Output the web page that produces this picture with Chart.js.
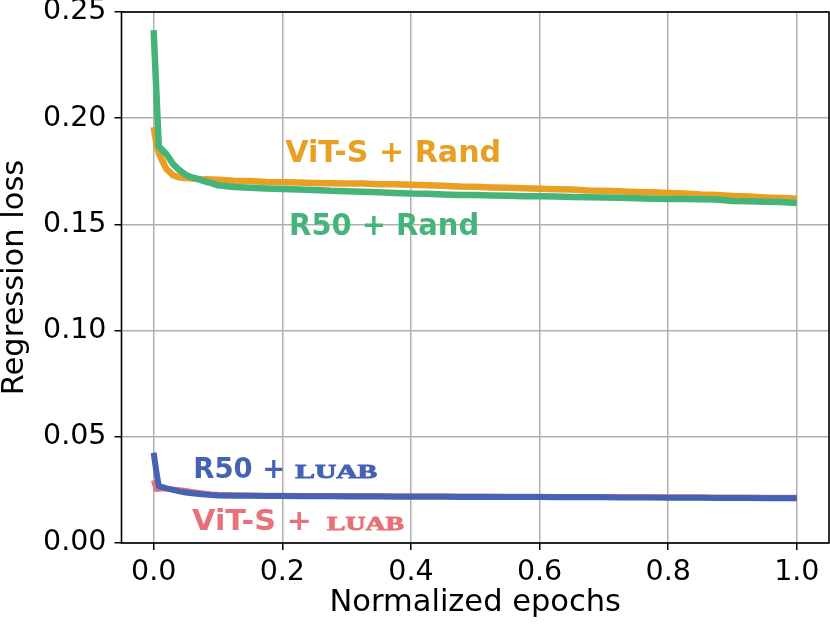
<!DOCTYPE html>
<html>
<head>
<meta charset="utf-8">
<script src="https://cdn.jsdelivr.net/npm/chart.js@4.4.1/dist/chart.umd.min.js"></script>
<style>
  html, body { margin: 0; padding: 0; background: #ffffff; }
  #wrap { width: 830px; height: 625px; }
</style>
</head>
<body>
<div id="wrap"><canvas id="lossChart" width="830" height="625"></canvas></div>
<script>
// Regression loss vs normalized epochs

const epochs = [0, 0.004, 0.008, 0.015, 0.02, 0.03, 0.04, 0.05, 0.06, 0.07, 0.08, 0.09,
    0.1, 0.125, 0.15, 0.175, 0.2, 0.225, 0.25, 0.275, 0.3, 0.325, 0.35, 0.375, 0.4,
    0.425, 0.45, 0.475, 0.5, 0.525, 0.55, 0.575, 0.6, 0.625, 0.65, 0.675, 0.7, 0.725,
    0.75, 0.775, 0.8, 0.825, 0.85, 0.875, 0.9, 0.925, 0.95, 0.975, 1.0];

const vitRand = [0.1958, 0.1884, 0.1835, 0.1790, 0.1760, 0.1732, 0.1721, 0.1719, 0.1716, 0.1714, 0.1712, 0.1711,
    0.1710, 0.1706, 0.1704, 0.1700, 0.1699, 0.1697, 0.1695, 0.1694, 0.1692, 0.1693, 0.1689, 0.1689, 0.1687,
    0.1684, 0.1682, 0.1678, 0.1677, 0.1674, 0.1672, 0.1670, 0.1668, 0.1666, 0.1664, 0.1660, 0.1659, 0.1656,
    0.1653, 0.1651, 0.1648, 0.1646, 0.1641, 0.1638, 0.1634, 0.1631, 0.1627, 0.1624, 0.1621];

const r50Rand = [0.2415, 0.2140, 0.1866, 0.1846, 0.1830, 0.1785, 0.1755, 0.1733, 0.1721, 0.1712, 0.1702, 0.1694,
    0.1684, 0.1676, 0.1672, 0.1669, 0.1667, 0.1664, 0.1662, 0.1658, 0.1656, 0.1654, 0.1651, 0.1648, 0.1645,
    0.1644, 0.1641, 0.1638, 0.1638, 0.1636, 0.1635, 0.1633, 0.1633, 0.1631, 0.1629, 0.1628, 0.1627, 0.1625,
    0.1623, 0.1621, 0.1619, 0.1619, 0.1618, 0.1617, 0.1610, 0.1609, 0.1607, 0.1606, 0.1601];

const r50Luab = [0.0425, 0.0340, 0.0267, 0.0262, 0.0257, 0.0250, 0.0243, 0.0238, 0.0234, 0.0231, 0.0228, 0.0226,
    0.0224, 0.0223, 0.0222, 0.0221, 0.0221, 0.0220, 0.0220, 0.0220, 0.0219, 0.0219, 0.0219, 0.0218, 0.0218,
    0.0218, 0.0218, 0.0217, 0.0217, 0.0217, 0.0216, 0.0216, 0.0216, 0.0215, 0.0215, 0.0215, 0.0215, 0.0214,
    0.0214, 0.0214, 0.0213, 0.0213, 0.0213, 0.0212, 0.0212, 0.0212, 0.0211, 0.0211, 0.0211];

const vitLuab = [0.0296, 0.0253, 0.0254, 0.0256, 0.0255, 0.0253, 0.0250, 0.0246, 0.0241, 0.0237, 0.0233, 0.0230,
    0.0228, 0.0226, 0.0225, 0.0224, 0.0224, 0.0223, 0.0223, 0.0223, 0.0222, 0.0222, 0.0222, 0.0221, 0.0221,
    0.0221, 0.0221, 0.0220, 0.0220, 0.0220, 0.0219, 0.0219, 0.0219, 0.0218, 0.0218, 0.0218, 0.0218, 0.0217,
    0.0217, 0.0217, 0.0216, 0.0216, 0.0216, 0.0215, 0.0215, 0.0215, 0.0214, 0.0214, 0.0214];

const xTicks = [0.0, 0.2, 0.4, 0.6, 0.8, 1.0];
const yTicks = [0.00, 0.05, 0.10, 0.15, 0.20, 0.25];

const COLORS = {
    vitRand: '#E89F22',
    r50Rand: '#44B47A',
    vitLuab: '#E8717A',
    r50Luab: '#4562B5'
};

const SANS = 'bold 29.5px "DejaVu Sans"';
const SANS_SM = 'bold 28.5px "DejaVu Sans"';
const SC = 'bold 19px "Liberation Serif"';
const TICK_FONT = { family: '"DejaVu Sans"', size: 28.5 };
const TITLE_FONT = { family: '"DejaVu Sans"', size: 30.5, lineHeight: 1 };

// In-plot series labels (anchored in data coords, widths in px)
const seriesLabels = [
    { color: COLORS.vitRand, x: 0.2044, y: 0.1796, parts: [{ text: 'ViT-S + Rand', font: SANS, w: 216 }] },
    { color: COLORS.r50Rand, x: 0.2106, y: 0.1451, parts: [{ text: 'R50 + Rand', font: SANS, w: 190 }] },
    { color: COLORS.r50Luab, x: 0.0616, y: 0.0308, parts: [
        { text: 'R50 +', font: SANS_SM, w: 92 },
        { text: 'LUAB', font: SC, w: 82, gap: 10, heavy: true }] },
    { color: COLORS.vitLuab, x: 0.0596, y: 0.0062, parts: [
        { text: 'ViT-S +', font: SANS_SM, w: 120 },
        { text: 'LUAB', font: SC, w: 77, gap: 15, heavy: true }] }
];

function toPoints(ys) {
    return epochs.map((x, i) => ({ x: x, y: ys[i] }));
}

const framePlugin = {
    id: 'frameAndLabels',
    afterDatasetsDraw(chart) {
        const ctx = chart.ctx;
        const xs = chart.scales.x;
        const ys = chart.scales.y;

        ctx.save();
        seriesLabels.forEach(lbl => {
            let px = xs.getPixelForValue(lbl.x);
            const py = ys.getPixelForValue(lbl.y);
            ctx.fillStyle = lbl.color;
            ctx.strokeStyle = lbl.color;
            ctx.textBaseline = 'alphabetic';
            ctx.textAlign = 'left';
            lbl.parts.forEach(part => {
                px += part.gap || 0;
                ctx.font = part.font;
                const natural = ctx.measureText(part.text).width;
                const sx = part.w / natural;
                ctx.save();
                ctx.translate(px, py);
                ctx.scale(sx, 1);
                ctx.fillText(part.text, 0, 0);
                if (part.heavy) {
                    // typewriter caps in the reference are heavier
                    ctx.lineWidth = 0.9;
                    ctx.lineJoin = 'round';
                    ctx.strokeText(part.text, 0, 0);
                }
                ctx.restore();
                px += part.w;
            });
        });
        ctx.restore();

        // axes frame (all four spines)
        const a = chart.chartArea;
        ctx.save();
        ctx.strokeStyle = '#000000';
        ctx.lineWidth = 1.6;
        ctx.strokeRect(a.left, a.top, a.right - a.left, a.bottom - a.top);
        ctx.restore();
    }
};

function buildChart() {
    const ctx = document.getElementById('lossChart').getContext('2d');
    new Chart(ctx, {
        type: 'line',
        data: {
            datasets: [
                { label: 'R50 + LUAB', data: toPoints(r50Luab), borderColor: COLORS.r50Luab, borderWidth: 6, order: 0 },
                { label: 'R50 + Rand', data: toPoints(r50Rand), borderColor: COLORS.r50Rand, borderWidth: 6.5, order: 1 },
                { label: 'ViT-S + LUAB', data: toPoints(vitLuab), borderColor: COLORS.vitLuab, borderWidth: 5.5, order: 2 },
                { label: 'ViT-S + Rand', data: toPoints(vitRand), borderColor: COLORS.vitRand, borderWidth: 6.5, order: 3 }
            ]
        },
        options: {
            responsive: false,
            animation: false,
            elements: {
                point: { radius: 0 },
                line: { tension: 0, fill: false, borderJoinStyle: 'round' }
            },
            layout: { padding: { top: 12, right: 1, left: 0, bottom: 0 } },
            plugins: {
                legend: { display: false },
                tooltip: { enabled: false }
            },
            scales: {
                x: {
                    type: 'linear',
                    min: -0.05,
                    max: 1.05,
                    afterBuildTicks: scale => { scale.ticks = xTicks.map(v => ({ value: v })); },
                    afterFit: scale => {
                        scale.height = 82;
                        scale.paddingLeft = 0;
                        scale.paddingRight = 0;
                    },
                    grid: { color: '#b0b0b0', lineWidth: 1.5, tickColor: '#000000', tickLength: 7, tickWidth: 1.5 },
                    border: { display: false },
                    ticks: {
                        color: '#000000',
                        font: TICK_FONT,
                        padding: 5,
                        maxRotation: 0,
                        callback: v => Number(v).toFixed(1)
                    },
                    title: {
                        display: true,
                        text: 'Normalized epochs',
                        color: '#000000',
                        font: TITLE_FONT,
                        padding: { top: 0, bottom: 7 }
                    }
                },
                y: {
                    type: 'linear',
                    min: 0,
                    max: 0.25,
                    afterBuildTicks: scale => { scale.ticks = yTicks.map(v => ({ value: v })); },
                    afterFit: scale => {
                        scale.width = 121.5;
                        scale.paddingTop = 0;
                        scale.paddingBottom = 0;
                    },
                    grid: { color: '#b0b0b0', lineWidth: 1.5, tickColor: '#000000', tickLength: 7, tickWidth: 1.5 },
                    border: { display: false },
                    ticks: {
                        color: '#000000',
                        font: TICK_FONT,
                        padding: 8,
                        callback: v => Number(v).toFixed(2)
                    },
                    title: {
                        display: true,
                        text: 'Regression loss',
                        color: '#000000',
                        font: TITLE_FONT,
                        padding: { top: 0, bottom: 0 }
                    }
                }
            }
        },
        plugins: [framePlugin]
    });
}

Promise.all([
    document.fonts.load(SANS, 'ViT-S + Rand'),
    document.fonts.load(SC, 'LUAB'),
    document.fonts.load('28px "DejaVu Sans"', '0.25 Regression')
]).then(buildChart, buildChart);
</script>
</body>
</html>
